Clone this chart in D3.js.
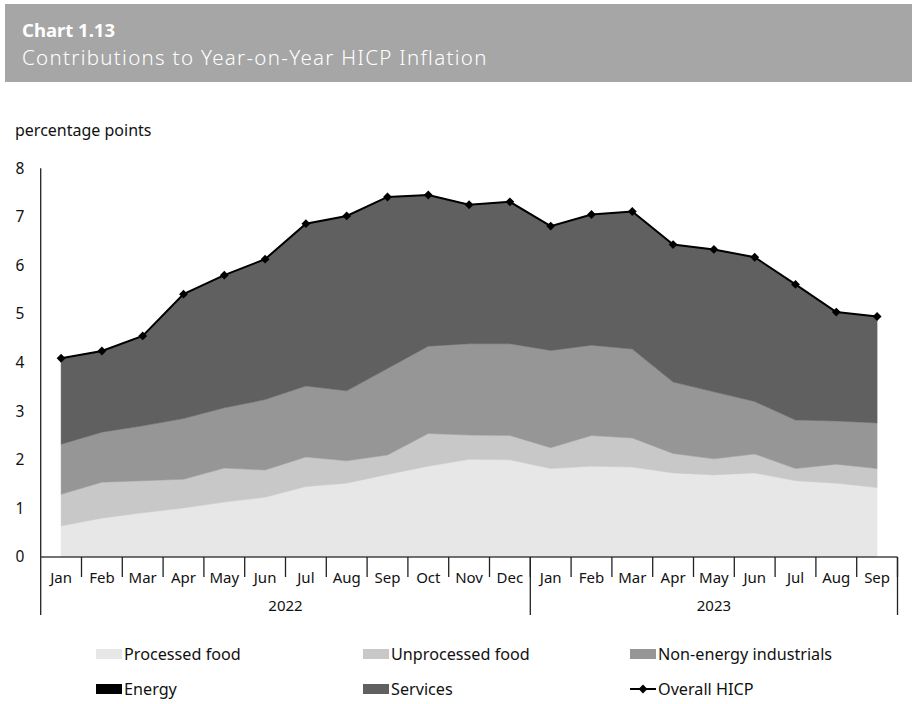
<!DOCTYPE html>
<html><head><meta charset="utf-8">
<script src="https://cdn.jsdelivr.net/npm/d3@7"></script>
<style>
body{margin:0;background:#fff;}
svg{display:block;font-family:"Noto Sans",sans-serif;}
</style></head>
<body><svg id="c" width="912" height="704"></svg>
<script>
const months = ["Jan","Feb","Mar","Apr","May","Jun","Jul","Aug","Sep","Oct","Nov","Dec","Jan","Feb","Mar","Apr","May","Jun","Jul","Aug","Sep"];
const years = [{label:"2022", n:12},{label:"2023", n:9}];
const processedFood = [0.64,0.80,0.91,1.01,1.13,1.23,1.45,1.52,1.70,1.87,2.01,2.00,1.82,1.87,1.85,1.73,1.69,1.73,1.57,1.52,1.43];
const unprocessedFood = [0.65,0.74,0.66,0.59,0.70,0.56,0.61,0.46,0.40,0.67,0.50,0.50,0.43,0.63,0.60,0.40,0.33,0.39,0.25,0.39,0.39];
const nonEnergyIndustrials = [1.03,1.03,1.13,1.25,1.24,1.45,1.46,1.44,1.78,1.80,1.88,1.89,2.00,1.86,1.83,1.47,1.38,1.08,1.00,0.89,0.94];
const energy = [0,0,0,0,0,0,0,0,0,0,0,0,0,0,0,0,0,0,0,0,0];
const services = [1.77,1.67,1.85,2.56,2.73,2.89,3.34,3.60,3.53,3.11,2.86,2.92,2.56,2.69,2.83,2.83,2.93,2.97,2.79,2.24,2.19];
const overallHICP = [4.09,4.24,4.55,5.41,5.80,6.13,6.86,7.02,7.41,7.45,7.25,7.31,6.81,7.05,7.11,6.43,6.33,6.17,5.61,5.04,4.95];
const yTicks = [0,1,2,3,4,5,6,7,8];
const seriesNames = ["Processed food","Unprocessed food","Non-energy industrials","Energy","Services"];
const seriesColors = ["#e7e7e7","#c8c8c8","#969696","#000000","#606060"];

const svg = d3.select("#c");
// header
svg.append("rect").attr("x",5).attr("y",4).attr("width",907).attr("height",78).attr("fill","#a6a6a6");
svg.append("text").attr("x",22).attr("y",36.5).attr("fill","#fff").attr("font-size",18.5).attr("font-weight","bold").text("Chart 1.13");
svg.append("text").attr("x",22).attr("y",64.5).attr("fill","#fff").attr("font-size",20.5).attr("font-weight",300).attr("letter-spacing",1.3).text("Contributions to Year-on-Year HICP Inflation");
svg.append("text").attr("x",15).attr("y",136).attr("font-size",16).attr("fill","#111").text("percentage points");

const x0 = 40.7, x1 = 897.5, yBottom = 557, yTop = 168.3;
const x = d3.scaleBand().domain(d3.range(months.length)).range([x0,x1]).padding(0);
const cx = i => x(i) + x.bandwidth()/2;
const y = d3.scaleLinear().domain([0,8]).range([yBottom,yTop]);

const table = months.map((m,i)=>({i, s0:processedFood[i], s1:unprocessedFood[i], s2:nonEnergyIndustrials[i], s3:energy[i], s4:services[i]}));
const stack = d3.stack().keys(["s0","s1","s2","s3","s4"]);
const layers = stack(table);
const area = d3.area().x(d=>cx(d.data.i)).y0(d=>y(d[0])).y1(d=>y(d[1]));
svg.append("g").selectAll("path").data(layers).join("path")
  .attr("d",area).attr("fill",(d,k)=>seriesColors[k]).attr("stroke",(d,k)=>k===3?"none":seriesColors[k]).attr("stroke-width",0.5);

// HICP line
const line = d3.line().x((d,i)=>cx(i)).y(d=>y(d));
svg.append("path").datum(overallHICP).attr("d",line).attr("fill","none").attr("stroke","#000").attr("stroke-width",2);
const diamond = d3.symbol().type(d3.symbolDiamond2).size(50);
svg.append("g").selectAll("path").data(overallHICP).join("path")
  .attr("transform",(d,i)=>`translate(${cx(i)},${y(d)})`).attr("d",diamond).attr("fill","#000");

// y axis
svg.append("line").attr("x1",x0).attr("x2",x0).attr("y1",yTop).attr("y2",615).attr("stroke","#222").attr("stroke-width",1.3);
svg.append("g").selectAll("text").data(yTicks).join("text")
  .attr("x",20).attr("y",d=>y(d)).attr("dy","0.35em").attr("text-anchor","middle").attr("font-size",15.5).attr("fill","#111").text(d=>d);

// x axis
svg.append("line").attr("x1",x0).attr("x2",x1).attr("y1",yBottom).attr("y2",yBottom).attr("stroke","#444").attr("stroke-width",1.5);
svg.append("g").selectAll("line").data(d3.range(1,months.length+1)).join("line")
  .attr("x1",i=>x0+i*x.bandwidth()).attr("x2",i=>x0+i*x.bandwidth()).attr("y1",yBottom).attr("y2",577)
  .attr("stroke","#222").attr("stroke-width",1.3);
svg.append("g").selectAll("text").data(months).join("text")
  .attr("x",(d,i)=>cx(i)).attr("y",578).attr("dy","0.35em").attr("text-anchor","middle").attr("font-size",15).attr("fill","#111").text(d=>d);
let acc = 0;
years.forEach(yr=>{
  const start = x0 + acc*x.bandwidth();
  const end = x0 + (acc+yr.n)*x.bandwidth();
  svg.append("line").attr("x1",end).attr("x2",end).attr("y1",yBottom).attr("y2",615).attr("stroke","#222").attr("stroke-width",1.3);
  svg.append("text").attr("x",(start+end)/2).attr("y",606).attr("dy","0.35em").attr("text-anchor","middle").attr("font-size",15).attr("fill","#111").text(yr.label);
  acc += yr.n;
});

// legend
const legPos = [[96,654],[363,654],[630,654],[96,689],[363,689]];
seriesNames.forEach((n,k)=>{
  const [lx,ly] = legPos[k];
  svg.append("rect").attr("x",lx).attr("y",ly-5).attr("width",26).attr("height",10).attr("fill",seriesColors[k]);
  svg.append("text").attr("x",lx+28).attr("y",ly).attr("dy","0.35em").attr("font-size",16.2).attr("fill","#111").text(n);
});
svg.append("line").attr("x1",630).attr("x2",656).attr("y1",689).attr("y2",689).attr("stroke","#000").attr("stroke-width",2);
svg.append("path").attr("transform","translate(643,689)").attr("d",diamond).attr("fill","#000");
svg.append("text").attr("x",658).attr("y",689).attr("dy","0.35em").attr("font-size",16.2).attr("fill","#111").text("Overall HICP");
</script></body></html>
